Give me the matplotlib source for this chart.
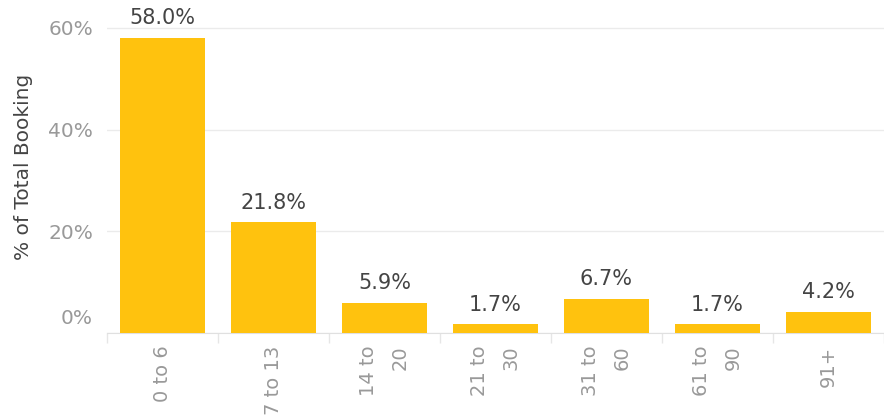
import numpy as np
import matplotlib
matplotlib.use("Agg")
import matplotlib.pyplot as plt
import matplotlib.transforms as mtransforms
from matplotlib.ticker import FixedLocator

# lead time buckets (days) and share of bookings
buckets = ["0 to 6", "7 to 13", "14 to\n20", "21 to\n30", "31 to\n60", "61 to\n90", "91+"]
share = [58.0, 21.8, 5.9, 1.7, 6.7, 1.7, 4.2]
yticks = [0, 20, 40, 60]

bar_color = "#FFC20E"
grid_color = "#EBEBEB"

plt.rcParams["font.family"] = ["DejaVu Sans"]

fig = plt.figure(figsize=(8.84, 4.18), dpi=100)
ax = fig.add_axes([0.121, 0.203, 0.879, 0.797])

pos = np.arange(len(share))
ax.bar(pos, share, width=0.76, color=bar_color, zorder=3)

for p, v in zip(pos, share):
    ax.annotate(f"{v:.1f}%", (p, v), xytext=(0, 7), textcoords="offset points",
                ha="center", va="bottom", fontsize=15, color="#444444", zorder=4)

ax.set_xlim(-0.5, len(share) - 0.5)
ax.set_ylim(0, 65.5)

ax.set_yticks(yticks)
ax.set_yticklabels([f"{t}%" for t in yticks], fontsize=14.5, color="#999999")
ax.yaxis.grid(True, color=grid_color, linewidth=1, zorder=0)
ax.tick_params(axis="y", length=0, pad=10)
# keep the 0% label above the baseline
lab0 = ax.get_yticklabels()[0]
lab0.set_verticalalignment("bottom")
lab0.set_transform(lab0.get_transform() +
                   mtransforms.ScaledTranslation(0, 4 / 72, fig.dpi_scale_trans))

ax.set_xticks(pos)
ax.set_xticklabels(buckets, rotation=90, fontsize=14, color="#999999",
                   multialignment="right", linespacing=1.8, va="top")
ax.tick_params(axis="x", which="major", length=0, pad=9)
ax.xaxis.set_minor_locator(FixedLocator(np.arange(-0.5, len(share), 1.0)))
ax.tick_params(axis="x", which="minor", length=7, color="#E6E6E6", width=1)

for s in ["top", "right"]:
    ax.spines[s].set_visible(False)
ax.spines["left"].set_visible(False)
ax.spines["bottom"].set_color("#E0E0E0")

ax.set_ylabel("% of Total Booking", fontsize=14.5, color="#444444", labelpad=11)

fig.savefig("out.png", dpi=100)
